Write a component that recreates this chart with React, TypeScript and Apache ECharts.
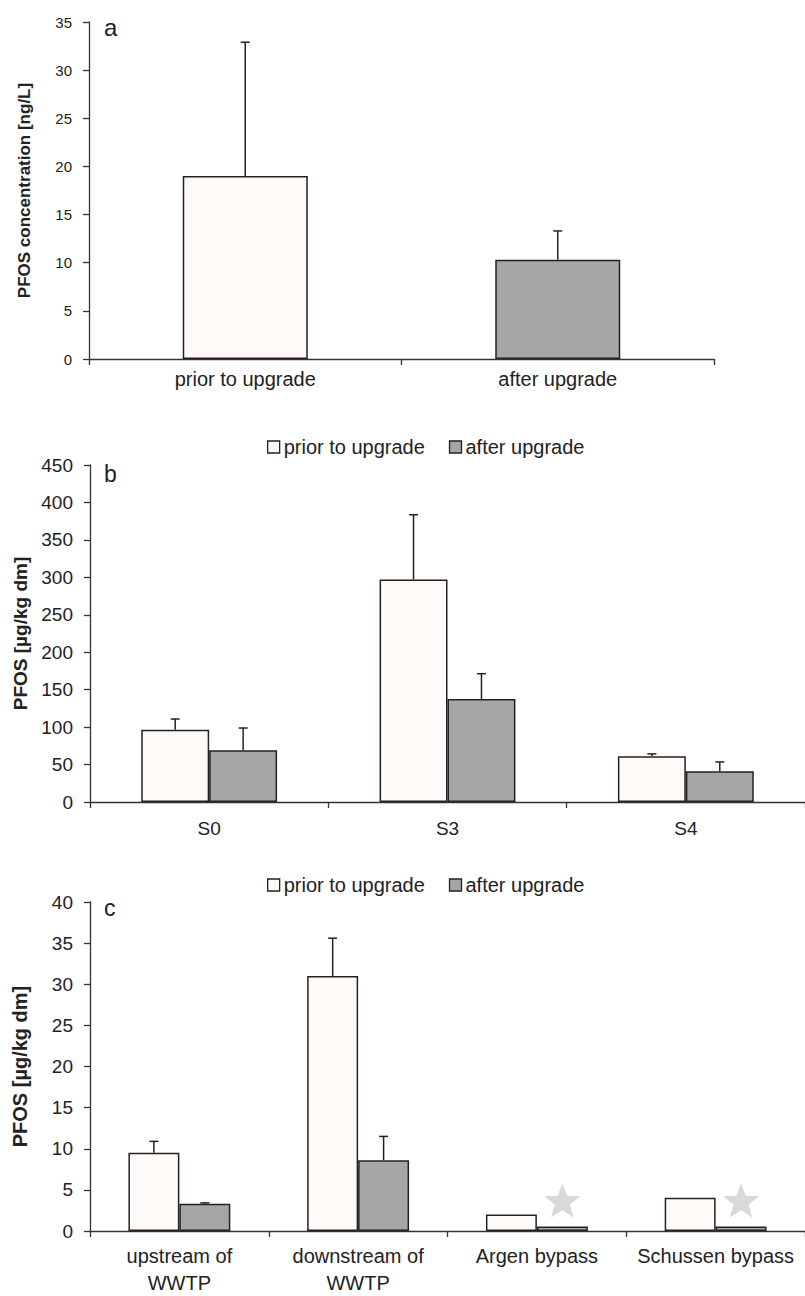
import React, { useEffect, useRef } from "react";
import * as echarts from "echarts";

// ---- Data ----
const catsA = ["prior to upgrade", "after upgrade"];
const meanA = [19.0, 10.3];
const sdA = [13.9, 3.0];

const catsB = ["S0", "S3", "S4"];
const priorB = [96.5, 297, 61];
const priorSdB = [14.3, 86.6, 3.2];
const afterB = [69, 137.5, 41];
const afterSdB = [29.8, 33.8, 12.5];

const catsC = ["upstream of\nWWTP", "downstream of\nWWTP", "Argen bypass", "Schussen bypass"];
const priorC = [9.5, 31.0, 2.0, 4.05];
const priorSdC = [1.4, 4.6, 0, 0];
const afterC = [3.3, 8.6, 0.55, 0.55];
const afterSdC = [0.12, 2.9, 0, 0];
const starC = [null, null, 3.75, 3.75]; // significance marker level on "after" bars

const PRIOR = "prior to upgrade";
const AFTER = "after upgrade";

const FONT = "'Liberation Sans', Arial, Helvetica, sans-serif";
const INK = "#222";
const AXIS = "#333";
const PRIOR_FILL = "#fffaf7";
const AFTER_FILL = "#a6a6a6";
const BAR_BORDER = { borderColor: "#222", borderWidth: 1.5 };

function errRenderer(offsetFrac: number) {
  return (params: any, api: any) => {
    const cat = api.value(0);
    const mean = api.value(1);
    const sd = api.value(2);
    if (!sd) return null;
    const base = api.coord([cat, mean]);
    const top = api.coord([cat, mean + sd]);
    const bw = api.size([1, 0])[0];
    const x = base[0] + offsetFrac * bw;
    const cap = 4.5;
    const style = { stroke: INK, lineWidth: 1.5 };
    return {
      type: "group",
      children: [
        { type: "line", shape: { x1: x, y1: base[1], x2: x, y2: top[1] }, style },
        { type: "line", shape: { x1: x - cap, y1: top[1], x2: x + cap, y2: top[1] }, style },
      ],
    };
  };
}

function starRenderer(offsetFrac: number) {
  return (params: any, api: any) => {
    const cat = api.value(0);
    const v = api.value(1);
    if (v == null || isNaN(v)) return null;
    const c = api.coord([cat, v]);
    const bw = api.size([1, 0])[0];
    const cx = c[0] + offsetFrac * bw;
    const cy = c[1];
    const R = 19;
    const r = R * 0.42;
    const pts: number[][] = [];
    for (let i = 0; i < 10; i++) {
      const rad = i % 2 === 0 ? R : r;
      const ang = -Math.PI / 2 + (i * Math.PI) / 5;
      pts.push([cx + rad * Math.cos(ang), cy + 2 + rad * Math.sin(ang)]);
    }
    return { type: "polygon", shape: { points: pts }, style: { fill: "#d9d9d9" } };
  };
}

function xAxis(gridIndex: number, data: string[], fontSize: number, margin: number, lineHeight?: number) {
  return {
    type: "category",
    gridIndex,
    data,
    axisLine: { show: true, lineStyle: { color: AXIS, width: 1.3 } },
    axisTick: { show: true, length: 6, lineStyle: { color: AXIS, width: 1.3 } },
    axisLabel: {
      fontSize,
      color: INK,
      fontFamily: FONT,
      margin,
      interval: 0,
      lineHeight: lineHeight || fontSize * 1.2,
    },
  };
}

function yAxis(gridIndex: number, max: number, interval: number, name: string, fontSize: number, nameSize: number, nameGap: number) {
  return {
    type: "value",
    gridIndex,
    min: 0,
    max,
    interval,
    name,
    nameLocation: "middle",
    nameRotate: 90,
    nameGap,
    nameTextStyle: { fontSize: nameSize, fontWeight: "bold", color: INK, fontFamily: FONT },
    axisLine: { show: true, lineStyle: { color: AXIS, width: 1.3 } },
    axisTick: { show: true, length: 6, lineStyle: { color: AXIS, width: 1.3 } },
    splitLine: { show: false },
    axisLabel: { fontSize, color: INK, fontFamily: FONT, margin: 17 },
  };
}

function legend(top: number) {
  return {
    left: 262,
    top,
    icon: "rect",
    itemWidth: 12,
    itemHeight: 12,
    itemGap: 24,
    selectedMode: false,
    textStyle: { fontSize: 20, color: INK, fontFamily: FONT, padding: [0, 0, 0, -1] },
    data: [
      { name: PRIOR, itemStyle: { color: PRIOR_FILL, borderColor: "#222", borderWidth: 1.3 } },
      { name: AFTER, itemStyle: { color: AFTER_FILL, borderColor: "#222", borderWidth: 1.3 } },
    ],
  };
}

export default function App() {
  const ref = useRef<HTMLDivElement>(null);

  useEffect(() => {
    if (!ref.current) return;
    const chart = echarts.init(ref.current, null, { renderer: "svg" });

    const option: any = {
      animation: false,
      backgroundColor: "#ffffff",
      textStyle: { fontFamily: FONT },
      legend: [legend(432), legend(870)],
      grid: [
        { left: 89, top: 22, width: 625, height: 337 },
        { left: 90, top: 465, width: 715, height: 337 },
        { left: 90, top: 902, width: 718, height: 335 },
      ],
      xAxis: [
        xAxis(0, catsA, 20, 8),
        xAxis(1, catsB, 19, 15),
        xAxis(2, catsC, 20, 11, 27),
      ],
      yAxis: [
        yAxis(0, 35, 5, "PFOS concentration [ng/L]", 15, 17, 56),
        yAxis(1, 450, 50, "PFOS [µg/kg dm]", 19, 19, 57),
        yAxis(2, 40, 5, "PFOS [µg/kg dm]", 19, 20, 60),
      ],
      graphic: [
        { type: "text", x: 104, y: 27, style: { text: "a", fontSize: 24, fill: INK, fontFamily: FONT, verticalAlign: "middle" } },
        { type: "text", x: 104, y: 474, style: { text: "b", fontSize: 23, fill: INK, fontFamily: FONT, verticalAlign: "middle" } },
        { type: "text", x: 104, y: 908, style: { text: "c", fontSize: 23, fill: INK, fontFamily: FONT, verticalAlign: "middle" } },
      ],
      series: [
        // Panel a
        {
          name: "PFOS water",
          type: "bar",
          xAxisIndex: 0,
          yAxisIndex: 0,
          barWidth: "40%",
          data: meanA.map((v, i) => ({
            value: v,
            itemStyle: { color: i === 0 ? PRIOR_FILL : AFTER_FILL, ...BAR_BORDER },
          })),
        },
        {
          type: "custom",
          xAxisIndex: 0,
          yAxisIndex: 0,
          renderItem: errRenderer(0),
          encode: { x: 0, y: 1 },
          data: meanA.map((v, i) => [i, v, sdA[i]]),
          z: 5,
        },
        // Panel b
        {
          name: PRIOR,
          type: "bar",
          xAxisIndex: 1,
          yAxisIndex: 1,
          barWidth: "28.5%",
          barGap: "0%",
          itemStyle: { color: PRIOR_FILL, ...BAR_BORDER },
          data: priorB,
        },
        {
          name: AFTER,
          type: "bar",
          xAxisIndex: 1,
          yAxisIndex: 1,
          barWidth: "28.5%",
          barGap: "0%",
          itemStyle: { color: AFTER_FILL, ...BAR_BORDER },
          data: afterB,
        },
        {
          type: "custom",
          xAxisIndex: 1,
          yAxisIndex: 1,
          renderItem: errRenderer(-0.1425),
          encode: { x: 0, y: 1 },
          data: priorB.map((v, i) => [i, v, priorSdB[i]]),
          z: 5,
        },
        {
          type: "custom",
          xAxisIndex: 1,
          yAxisIndex: 1,
          renderItem: errRenderer(0.1425),
          encode: { x: 0, y: 1 },
          data: afterB.map((v, i) => [i, v, afterSdB[i]]),
          z: 5,
        },
        // Panel c
        {
          name: PRIOR,
          type: "bar",
          xAxisIndex: 2,
          yAxisIndex: 2,
          barWidth: "28.5%",
          barGap: "0%",
          itemStyle: { color: PRIOR_FILL, ...BAR_BORDER },
          data: priorC,
        },
        {
          name: AFTER,
          type: "bar",
          xAxisIndex: 2,
          yAxisIndex: 2,
          barWidth: "28.5%",
          barGap: "0%",
          itemStyle: { color: AFTER_FILL, ...BAR_BORDER },
          data: afterC,
        },
        {
          type: "custom",
          xAxisIndex: 2,
          yAxisIndex: 2,
          renderItem: errRenderer(-0.1425),
          encode: { x: 0, y: 1 },
          data: priorC.map((v, i) => [i, v, priorSdC[i]]),
          z: 5,
        },
        {
          type: "custom",
          xAxisIndex: 2,
          yAxisIndex: 2,
          renderItem: errRenderer(0.1425),
          encode: { x: 0, y: 1 },
          data: afterC.map((v, i) => [i, v, afterSdC[i]]),
          z: 5,
        },
        {
          type: "custom",
          xAxisIndex: 2,
          yAxisIndex: 2,
          renderItem: starRenderer(0.1425),
          encode: { x: 0, y: 1 },
          data: starC.map((v, i) => [i, v == null ? NaN : v]),
          z: 6,
        },
      ],
    };

    chart.setOption(option);
    return () => chart.dispose();
  }, []);

  return (
    <div
      ref={ref}
      style={{ position: "absolute", left: 0, top: 0, width: 805, height: 1296, background: "#fff" }}
    />
  );
}
